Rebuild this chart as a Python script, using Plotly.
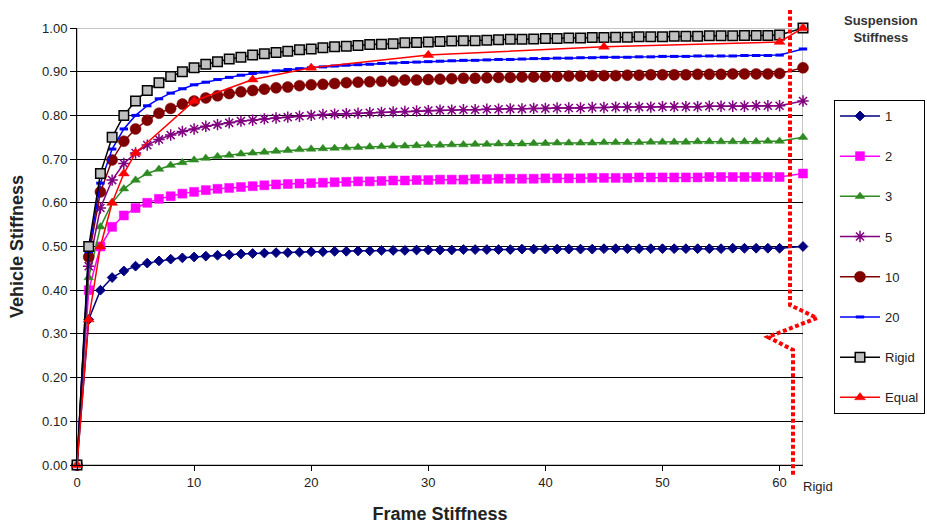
import plotly.graph_objects as go

# Frame stiffness categories (0..60) plus the "Rigid" position at the right edge
FRAME = list(range(0, 61))
RIGID_X = 62
X_ALL = FRAME + [RIGID_X]

S1 = [0.000, 0.333, 0.400, 0.429, 0.444, 0.455, 0.462, 0.467, 0.471, 0.474,
      0.476, 0.478, 0.480, 0.481, 0.483, 0.484, 0.485, 0.486, 0.486, 0.487,
      0.488, 0.488, 0.489, 0.489, 0.490, 0.490, 0.491, 0.491, 0.491, 0.492,
      0.492, 0.492, 0.492, 0.493, 0.493, 0.493, 0.493, 0.493, 0.494, 0.494,
      0.494, 0.494, 0.494, 0.494, 0.494, 0.495, 0.495, 0.495, 0.495, 0.495,
      0.495, 0.495, 0.495, 0.495, 0.495, 0.495, 0.496, 0.496, 0.496, 0.496,
      0.496, 0.500]

S2 = [0.000, 0.400, 0.500, 0.545, 0.571, 0.588, 0.600, 0.609, 0.615, 0.621,
      0.625, 0.629, 0.632, 0.634, 0.636, 0.638, 0.640, 0.642, 0.643, 0.644,
      0.645, 0.646, 0.647, 0.648, 0.649, 0.649, 0.650, 0.651, 0.651, 0.652,
      0.652, 0.653, 0.653, 0.653, 0.654, 0.654, 0.655, 0.655, 0.655, 0.655,
      0.656, 0.656, 0.656, 0.656, 0.657, 0.657, 0.657, 0.657, 0.658, 0.658,
      0.658, 0.658, 0.658, 0.658, 0.659, 0.659, 0.659, 0.659, 0.659, 0.659,
      0.659, 0.667]

S3 = [0.000, 0.429, 0.545, 0.600, 0.632, 0.652, 0.667, 0.677, 0.686, 0.692,
      0.698, 0.702, 0.706, 0.709, 0.712, 0.714, 0.716, 0.718, 0.720, 0.722,
      0.723, 0.724, 0.725, 0.726, 0.727, 0.728, 0.729, 0.730, 0.730, 0.731,
      0.732, 0.732, 0.733, 0.733, 0.734, 0.734, 0.735, 0.735, 0.735, 0.736,
      0.736, 0.737, 0.737, 0.737, 0.737, 0.738, 0.738, 0.738, 0.738, 0.739,
      0.739, 0.739, 0.739, 0.740, 0.740, 0.740, 0.740, 0.740, 0.740, 0.741,
      0.741, 0.750]

S5 = [0.000, 0.455, 0.588, 0.652, 0.690, 0.714, 0.732, 0.745, 0.755, 0.763,
      0.769, 0.775, 0.779, 0.783, 0.787, 0.789, 0.792, 0.794, 0.796, 0.798,
      0.800, 0.802, 0.803, 0.804, 0.805, 0.806, 0.807, 0.808, 0.809, 0.810,
      0.811, 0.812, 0.812, 0.813, 0.813, 0.814, 0.814, 0.815, 0.815, 0.816,
      0.816, 0.817, 0.817, 0.817, 0.818, 0.818, 0.819, 0.819, 0.819, 0.819,
      0.820, 0.820, 0.820, 0.820, 0.821, 0.821, 0.821, 0.821, 0.822, 0.822,
      0.822, 0.833]

S10 = [0.000, 0.476, 0.625, 0.698, 0.741, 0.769, 0.789, 0.805, 0.816, 0.826,
       0.833, 0.840, 0.845, 0.850, 0.854, 0.857, 0.860, 0.863, 0.865, 0.868,
       0.870, 0.871, 0.873, 0.875, 0.876, 0.877, 0.878, 0.879, 0.881, 0.881,
       0.882, 0.883, 0.884, 0.885, 0.885, 0.886, 0.887, 0.887, 0.888, 0.888,
       0.889, 0.889, 0.890, 0.890, 0.891, 0.891, 0.891, 0.892, 0.892, 0.893,
       0.893, 0.893, 0.893, 0.894, 0.894, 0.894, 0.895, 0.895, 0.895, 0.895,
       0.896, 0.909]

S20 = [0.000, 0.488, 0.645, 0.723, 0.769, 0.800, 0.822, 0.838, 0.851, 0.861,
       0.870, 0.876, 0.882, 0.887, 0.892, 0.896, 0.899, 0.902, 0.905, 0.907,
       0.909, 0.911, 0.913, 0.915, 0.916, 0.917, 0.919, 0.920, 0.921, 0.922,
       0.923, 0.924, 0.925, 0.926, 0.926, 0.927, 0.928, 0.928, 0.929, 0.930,
       0.930, 0.931, 0.931, 0.932, 0.932, 0.933, 0.933, 0.933, 0.934, 0.934,
       0.935, 0.935, 0.935, 0.936, 0.936, 0.936, 0.936, 0.937, 0.937, 0.937,
       0.938, 0.952]

SRIGID = [0.000, 0.500, 0.667, 0.750, 0.800, 0.833, 0.857, 0.875, 0.889, 0.900,
          0.909, 0.917, 0.923, 0.929, 0.933, 0.938, 0.941, 0.944, 0.947, 0.950,
          0.952, 0.955, 0.957, 0.958, 0.960, 0.962, 0.963, 0.964, 0.966, 0.967,
          0.968, 0.969, 0.970, 0.971, 0.971, 0.972, 0.973, 0.974, 0.974, 0.975,
          0.976, 0.976, 0.977, 0.977, 0.978, 0.978, 0.979, 0.979, 0.980, 0.980,
          0.980, 0.981, 0.981, 0.981, 0.982, 0.982, 0.982, 0.983, 0.983, 0.983,
          0.984, 1.000]

EQUAL_X = [0, 1, 2, 3, 4, 5, 10, 15, 20, 30, 45, 60, RIGID_X]
EQUAL = [0.000, 0.333, 0.500, 0.600, 0.667, 0.714, 0.833, 0.882, 0.909, 0.938, 0.957, 0.968, 1.000]

X_TICKS = [0, 10, 20, 30, 40, 50, 60]
Y_TICKS = [0.0, 0.1, 0.2, 0.3, 0.4, 0.5, 0.6, 0.7, 0.8, 0.9, 1.0]

FONT = "Liberation Sans, Arial, sans-serif"

series = [
    ("1", X_ALL, S1, dict(symbol="diamond", size=7.5, color="#000080", line=dict(width=1, color="#000080")), "#000080"),
    ("2", X_ALL, S2, dict(symbol="square", size=9, color="#FF00FF", line=dict(width=0.5, color="#FF00FF")), "#FF00FF"),
    ("3", X_ALL, S3, dict(symbol="triangle-up", size=8.5, color="#2E8B22", line=dict(width=0.5, color="#2E8B22")), "#2E8B22"),
    ("5", X_ALL, S5, dict(symbol="asterisk-open", size=9.5, color="#800080", line=dict(width=1.5, color="#800080")), "#800080"),
    ("10", X_ALL, S10, dict(symbol="circle", size=11, color="#800000", line=dict(width=0.5, color="#800000")), "#800000"),
    ("20", X_ALL, S20, dict(symbol="line-ew", size=6, color="#0000FF", line=dict(width=3, color="#0000FF")), "#0000FF"),
    ("Rigid", X_ALL, SRIGID, dict(symbol="square", size=9.5, color="#C0C0C0", line=dict(width=1.5, color="#000000")), "#000000"),
    ("Equal", EQUAL_X, EQUAL, dict(symbol="triangle-up", size=9.5, color="#FF0000", line=dict(width=0.5, color="#FF0000")), "#FF0000"),
]

fig = go.Figure()
for name, xs, ys, mk, lc in series:
    fig.add_trace(go.Scatter(
        x=xs, y=ys, name=name, mode="lines+markers",
        line=dict(color=lc, width=1.5), marker=mk,
        cliponaxis=False, legendgroup=name,
    ))

# plot area in pixels
L, R, T, B = 77, 803, 28, 465
W, H = 927, 525
def px(p):
    return (p - L) / (R - L)
def py(q):
    return (B - q) / (B - T)

shapes = [
    dict(type="rect", xref="x", yref="y", x0=0, x1=RIGID_X, y0=0, y1=1.0,
         line=dict(color="#8C8C8C", width=1), layer="below"),
    dict(type="path", xref="paper", yref="paper",
         path=(f"M {px(790)},{py(10)} L {px(790)},{py(305)} L {px(817)},{py(318)} "
               f"L {px(768)},{py(337)} L {px(793)},{py(350)} L {px(793)},{py(477)}"),
         line=dict(color="#FF0000", width=4, dash="4px,2.5px"), layer="above"),
]

annotations = [
    dict(text="Rigid", xref="x", yref="paper", x=RIGID_X, y=0, xanchor="left",
         yanchor="top", xshift=-2, yshift=-12, showarrow=False,
         font=dict(family=FONT, size=13, color="#222")),
    dict(text="<b>Suspension<br>Stiffness</b>", xref="paper", yref="paper",
         x=px(881), y=py(11), xanchor="center", yanchor="top", showarrow=False,
         font=dict(family=FONT, size=13, color="#333")),
]

fig.update_layout(
    width=W, height=H,
    margin=dict(l=L, r=W - R, t=T, b=H - B, autoexpand=False),
    paper_bgcolor="white", plot_bgcolor="white",
    font=dict(family=FONT, size=13, color="#222"),
    showlegend=True,
    legend=dict(x=px(834), y=py(100), xanchor="left", yanchor="top",
                bordercolor="#000", borderwidth=1, bgcolor="white",
                font=dict(family=FONT, size=13, color="#222"),
                tracegroupgap=20.3, itemwidth=40, traceorder="grouped"),
    xaxis=dict(range=[0, RIGID_X], tickvals=X_TICKS, ticks="outside", ticklen=5,
               tickcolor="#000", showline=True, linecolor="#000", linewidth=1,
               showgrid=False, zeroline=False,
               title=dict(text="<b>Frame Stiffness</b>", font=dict(family=FONT, size=18, color="#222"), standoff=18),
               tickfont=dict(family=FONT, size=13, color="#222")),
    yaxis=dict(range=[0, 1.0], tickvals=Y_TICKS, tickformat=".2f", ticks="outside",
               ticklen=6, tickcolor="#000", showline=True, linecolor="#000", linewidth=1,
               showgrid=True, gridcolor="#000", gridwidth=1.2, zeroline=False,
               title=dict(text="<b>Vehicle Stiffness</b>", font=dict(family=FONT, size=18, color="#222"), standoff=13),
               tickfont=dict(family=FONT, size=13, color="#222")),
    shapes=shapes, annotations=annotations,
)

fig.write_html(
    "out.html",
    config={"displayModeBar": False},
    post_script="document.body.style.margin='0';document.body.style.overflow='hidden';",
)
